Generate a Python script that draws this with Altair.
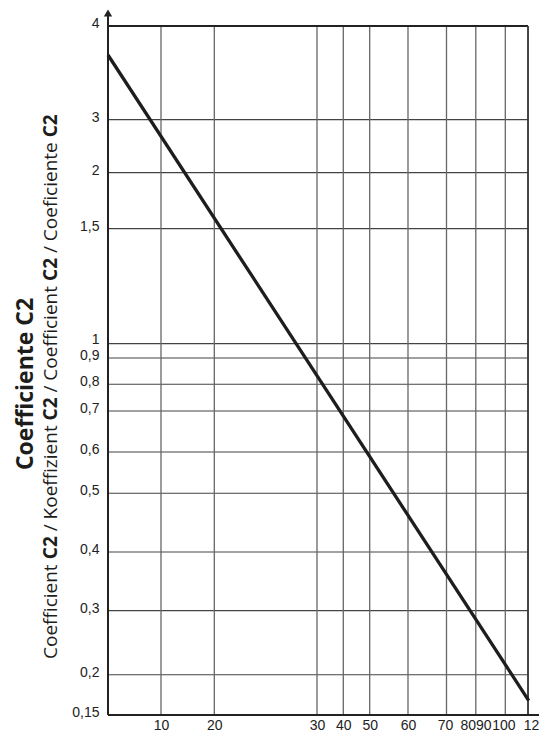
import altair as alt
import pandas as pd

# ---------------- data ----------------
x_tick_values = [10, 20, 30, 40, 50, 60, 70, 80, 90, 100, 120]
x_grid_values = [10, 20, 30, 40, 50, 60, 70, 80, 100]
y_tick_values = [0.15, 0.2, 0.3, 0.4, 0.5, 0.6, 0.7, 0.8, 0.9, 1, 1.5, 2, 3, 4]
y_grid_values = [0.2, 0.3, 0.4, 0.5, 0.6, 0.7, 0.8, 0.9, 1, 1.5, 2, 3]

# the curve (a straight line on this chart), end points
curve_x = [0, 111.5]
curve_y = [3.69, 0.168]

title_main = "Coefficiente C2"
subtitle_parts = [("Coefficient", False), ("C2", True), ("/ Koeffizient", False), ("C2", True),
                  ("/ Coefficient", False), ("C2", True), ("/ Coeficiente", False), ("C2", True)]

# ---------------- scales (irregular printed grid -> piecewise scales) ----------------
W, H = 420, 689
x_scale = alt.Scale(domain=[0, 10, 20, 30, 40, 50, 60, 70, 80, 90, 100, 120],
                    range=[0, 53, 106.3, 209, 235.3, 261.7, 300, 338.5, 367.8, 382.6, 397.3, 438],
                    nice=False, zero=False)
y_scale = alt.Scale(domain=y_tick_values,
                    range=[H, 648.8, 584.6, 526, 467.3, 426, 385, 358.3, 332, 317.6, 202.6, 146.6, 93.6, 0],
                    nice=False, zero=False)

LABEL_FONT = "Liberation Sans"
INK = "#1d1d1b"

x_axis = alt.Axis(values=x_tick_values, title=None, grid=False, domain=False, ticks=False,
                  labelFont=LABEL_FONT, labelFontSize=14, labelColor="#222", labelPadding=3,
                  labelOverlap=False, labelFlush=False, labelBound=False,
                  labelExpr="toString(datum.value)",
                  labelOffset={"condition": [
                      {"test": "datum.value == 70", "value": -1.5},
                      {"test": "datum.value == 80", "value": -8},
                      {"test": "datum.value == 90", "value": -7.3},
                      {"test": "datum.value == 100", "value": -2},
                      {"test": "datum.value == 120", "value": -11}], "value": 0})
y_axis = alt.Axis(values=y_tick_values, title=None, grid=False, domain=False, ticks=False,
                  labelFont=LABEL_FONT, labelFontSize=14, labelColor="#222", labelPadding=9,
                  labelOverlap=False, labelFlush=False, labelBound=False,
                  labelOffset={"condition": [{"test": "datum.value == 1", "value": -4.5}], "value": -2.5},
                  labelExpr="replace(toString(datum.value), '.', ',')")

curve_df = pd.DataFrame({"x": curve_x, "y": curve_y})

line = alt.Chart(curve_df).mark_line(color=INK, strokeWidth=3.3, strokeCap="butt").encode(
    x=alt.X("x:Q", scale=x_scale, axis=x_axis),
    y=alt.Y("y:Q", scale=y_scale, axis=y_axis),
)

hgrid = alt.Chart(pd.DataFrame({"y": y_grid_values})).mark_rule(color="#444", strokeWidth=1.1).encode(
    y=alt.Y("y:Q", scale=y_scale), x=alt.value(0), x2=alt.value(W))
vgrid = alt.Chart(pd.DataFrame({"x": x_grid_values})).mark_rule(color="#666", strokeWidth=1.3).encode(
    x=alt.X("x:Q", scale=x_scale), y=alt.value(0), y2=alt.value(H))

one = pd.DataFrame({"a": [0]})
top_border = alt.Chart(one).mark_rule(color="#222", strokeWidth=2).encode(
    y=alt.value(0), x=alt.value(0), x2=alt.value(W))
right_border = alt.Chart(one).mark_rule(color="#333", strokeWidth=1.8).encode(
    x=alt.value(W), y=alt.value(0), y2=alt.value(H))
left_axis = alt.Chart(one).mark_rule(color="#222", strokeWidth=2).encode(
    x=alt.value(0), y=alt.value(-12), y2=alt.value(H))
bottom_axis = alt.Chart(one).mark_rule(color="#222", strokeWidth=2).encode(
    y=alt.value(H), x=alt.value(0), x2=alt.value(445))
end_tick = alt.Chart(pd.DataFrame({"x": [120]})).mark_rule(color="#222", strokeWidth=1.2).encode(
    x=alt.X("x:Q", scale=x_scale), y=alt.value(H - 6), y2=alt.value(H))
arrow = alt.Chart(one).mark_point(shape="triangle-up", filled=True, color="#222", size=70, opacity=1).encode(
    x=alt.value(0), y=alt.value(-13))

title = alt.Chart(pd.DataFrame({"t": [title_main]})).mark_text(
    angle=270, align="center", baseline="alphabetic", font="Open Sans", fontSize=23,
    fontWeight="bold", color=INK).encode(text="t:N", x=alt.value(-75), y=alt.value(358))

# subtitle made of regular and bold pieces, laid end to end (bottom -> top)
REG = {' ': 0.26, 'C': 0.633, 'o': 0.602, 'e': 0.561, 'f': 0.342, 'i': 0.253, 'c': 0.478,
       'n': 0.614, 't': 0.353, 'K': 0.605, 'z': 0.471, '/': 0.361, '2': 0.571}
BOLD = {'C': 0.635, '2': 0.572}
FS = 19
pos = 633.0
sub_layers = []
for txt, bold in subtitle_parts:
    table = BOLD if bold else REG
    w = sum(table.get(ch, 0.55) for ch in txt) * FS
    sub_layers.append(
        alt.Chart(pd.DataFrame({"t": [txt]})).mark_text(
            angle=270, align="left", baseline="alphabetic", font="Open Sans", fontSize=FS,
            fontWeight="bold" if bold else "normal", color=INK
        ).encode(text="t:N", x=alt.value(-50.7), y=alt.value(pos))
    )
    pos -= w + REG[' '] * FS

chart = alt.layer(hgrid, vgrid, top_border, right_border, left_axis, bottom_axis, end_tick, arrow,
                  line, title, *sub_layers).properties(
    width=W, height=H,
    padding={"left": 100, "top": 18, "right": 11, "bottom": 17},
    autosize=alt.AutoSizeParams(type="none"),
).configure_view(stroke=None).configure(background="white")

chart.save("out.html", embed_options={"renderer": "svg", "actions": False})
